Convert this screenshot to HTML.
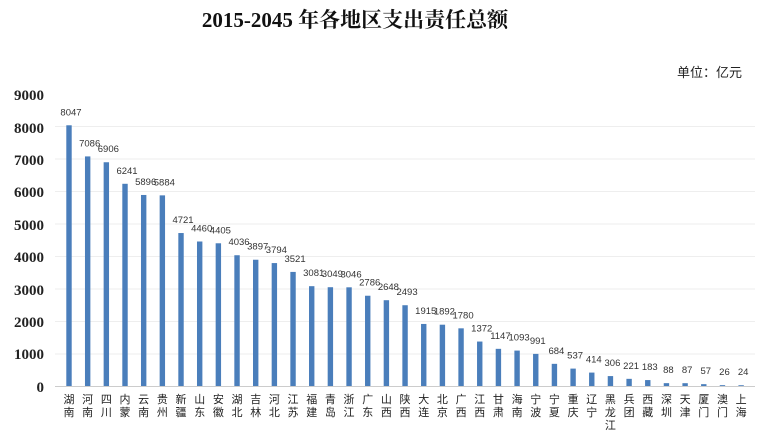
<!DOCTYPE html>
<html><head><meta charset="utf-8"><style>
body{margin:0;background:#fff;width:766px;height:432px;overflow:hidden}
.t{font-family:"Liberation Serif",serif;font-size:15px;font-weight:bold;fill:#222}
</style></head><body>
<svg width="766" height="432" xmlns="http://www.w3.org/2000/svg">
<text x="355" y="27" text-anchor="middle" style="font-family:'Liberation Serif','Noto Serif CJK SC',serif;font-weight:bold;font-size:21px" fill="#111">2015-2045 年各地区支出责任总额</text>
<text x="742" y="77" text-anchor="end" style="font-family:'Liberation Sans','Noto Sans CJK SC',sans-serif;font-size:13px" fill="#222">单位：亿元</text>
<g class="t" text-anchor="end">
<text class="t" x="44" y="392">0</text><text class="t" x="44" y="359">1000</text><text class="t" x="44" y="327">2000</text><text class="t" x="44" y="295">3000</text><text class="t" x="44" y="262">4000</text><text class="t" x="44" y="230">5000</text><text class="t" x="44" y="197">6000</text><text class="t" x="44" y="165">7000</text><text class="t" x="44" y="133">8000</text><text class="t" x="44" y="100">9000</text>
</g>
<g stroke="#eee" stroke-width="1">
<line x1="55" x2="755" y1="354" y2="354"/><line x1="55" x2="755" y1="321.5" y2="321.5"/><line x1="55" x2="755" y1="289" y2="289"/><line x1="55" x2="755" y1="256.5" y2="256.5"/><line x1="55" x2="755" y1="224" y2="224"/><line x1="55" x2="755" y1="191.5" y2="191.5"/><line x1="55" x2="755" y1="159" y2="159"/><line x1="55" x2="755" y1="126.5" y2="126.5"/>
</g>
<line x1="55" x2="755" y1="386.5" y2="386.5" stroke="#ccc"/>
<g id="bars"></g>
</svg>
<script>
var v=[8047,7086,6906,6241,5896,5884,4721,4460,4405,4036,3897,3794,3521,3081,3049,3046,2786,2648,2493,1915,1892,1780,1372,1147,1093,991,684,537,414,306,221,183,88,87,57,26,24];
var n=["湖南","河南","四川","内蒙","云南","贵州","新疆","山东","安徽","湖北","吉林","河北","江苏","福建","青岛","浙江","广东","山西","陕西","大连","北京","广西","江西","甘肃","海南","宁波","宁夏","重庆","辽宁","黑龙江","兵团","西藏","深圳","天津","厦门","澳门","上海"];
var g=document.getElementById("bars"),s="";
for(var i=0;i<v.length;i++){var x=69+i*18.67,h=v[i]*0.0324,y=386-h;
s+='<rect x="'+(x-2.7)+'" y="'+y+'" width="5.4" height="'+h+'" fill="#4a7ebb"/>';
s+='<text x="'+(x+2)+'" y="'+(y-10)+'" text-anchor="middle" style="font-family:\'Liberation Sans\',sans-serif;font-size:9.5px" fill="#333">'+v[i]+'</text>';
var ch=n[i].split("");for(var j=0;j<ch.length;j++)s+='<text x="'+x+'" y="'+(403+j*13)+'" text-anchor="middle" style="font-family:\'Noto Sans CJK SC\',sans-serif;font-size:11px" fill="#222">'+ch[j]+'</text>';}
g.innerHTML=s;
</script>
</body></html>
